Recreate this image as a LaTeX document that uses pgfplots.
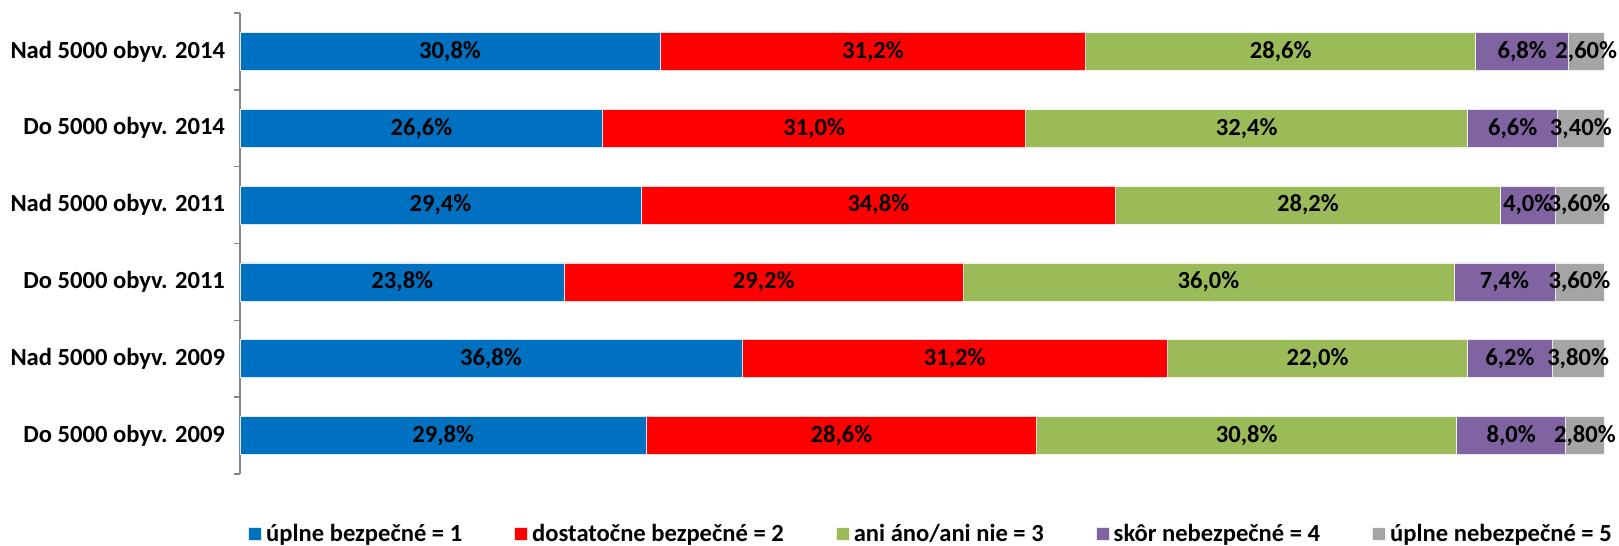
\documentclass[border=0pt]{standalone}
\usepackage{fontspec}
\setmainfont{Carlito}
\usepackage{pgfplots}
\usepackage{pgfplotstable}
\pgfplotsset{compat=1.18}

\definecolor{c1}{HTML}{0070C0}
\definecolor{c2}{HTML}{FF0000}
\definecolor{c3}{HTML}{9BBB59}
\definecolor{c4}{HTML}{8064A2}
\definecolor{c5}{HTML}{A5A5A5}
\definecolor{axgray}{HTML}{868686}

\newcommand{\lbl}{\fontsize{12.3}{14}\selectfont\bfseries}

\pgfplotsset{
  sqleg/.style={legend image code/.code={\fill[##1] (0pt,-3.4pt) rectangle (6.6pt,3.4pt);}},
}

% y: 0 = bottom row
\pgfplotstableread{
y  a    b    c    d   e
0  29.8 28.6 30.8 8.0 2.8
1  36.8 31.2 22.0 6.2 3.8
2  23.8 29.2 36.0 7.4 3.6
3  29.4 34.8 28.2 4.0 3.6
4  26.6 31.0 32.4 6.6 3.4
5  30.8 31.2 28.6 6.8 2.6
}\data

\begin{document}
\begin{tikzpicture}
\begin{axis}[
  name=ax,
  scale only axis, width=682pt, height=230.5pt,
  xbar stacked, bar width=19pt,
  xmin=0, xmax=100, ymin=-0.5, ymax=5.5,
  axis x line=none, axis y line*=left,
  y axis line style={draw=axgray, line width=0.75pt},
  ytick={0,...,5},
  yticklabels={Do 5000 obyv. 2009, Nad 5000 obyv. 2009, Do 5000 obyv. 2011,
               Nad 5000 obyv. 2011, Do 5000 obyv. 2014, Nad 5000 obyv. 2014},
  major tick length=0pt,
  minor ytick={-0.5,0.5,...,5.5},
  minor tick length=3pt, tick align=outside,
  minor tick style={draw=axgray, line width=0.75pt},
  yticklabel style={font=\lbl, text=black, xshift=-4pt},
  point meta=explicit,
  nodes near coords={\pgfmathprintnumber[fixed,fixed zerofill,precision=1,use comma,assume math mode=true]{\pgfplotspointmeta}\%},
  every node near coord/.append style={anchor=center, font=\lbl, text=black, inner sep=0pt},
  legend columns=5,
  legend style={at={(0.5,0)}, anchor=center, xshift=5pt, yshift=-30pt, draw=none, font=\lbl,
    /tikz/every even column/.append style={column sep=24pt}},
]
\addplot[fill=c1, draw=white!85!c1, line width=0.4pt, sqleg] table[x=a, y=y, meta=a] {\data};
\addplot[fill=c2, draw=white!85!c2, line width=0.4pt, sqleg] table[x=b, y=y, meta=b] {\data};
\addplot[fill=c3, draw=white!85!c3, line width=0.4pt, sqleg] table[x=c, y=y, meta=c] {\data};
\addplot[fill=c4, draw=white!85!c4, line width=0.4pt, sqleg] table[x=d, y=y, meta=d] {\data};
\addplot[fill=c5, draw=white!85!c5, line width=0.4pt, sqleg,
  nodes near coords={\pgfmathprintnumber[fixed,fixed zerofill,precision=2,use comma,assume math mode=true]{\pgfplotspointmeta}\%}]
  table[x=e, y=y, meta=e] {\data};
\legend{úplne bezpečné = 1, dostatočne bezpečné = 2, ani áno/ani nie = 3, skôr nebezpečné = 4, úplne nebezpečné = 5}
\end{axis}
\pgfresetboundingbox
\path[use as bounding box] ([shift={(-120pt,-36pt)}]ax.south west) rectangle ([shift={(7.5pt,6.5pt)}]ax.north east);
\end{tikzpicture}
\end{document}
